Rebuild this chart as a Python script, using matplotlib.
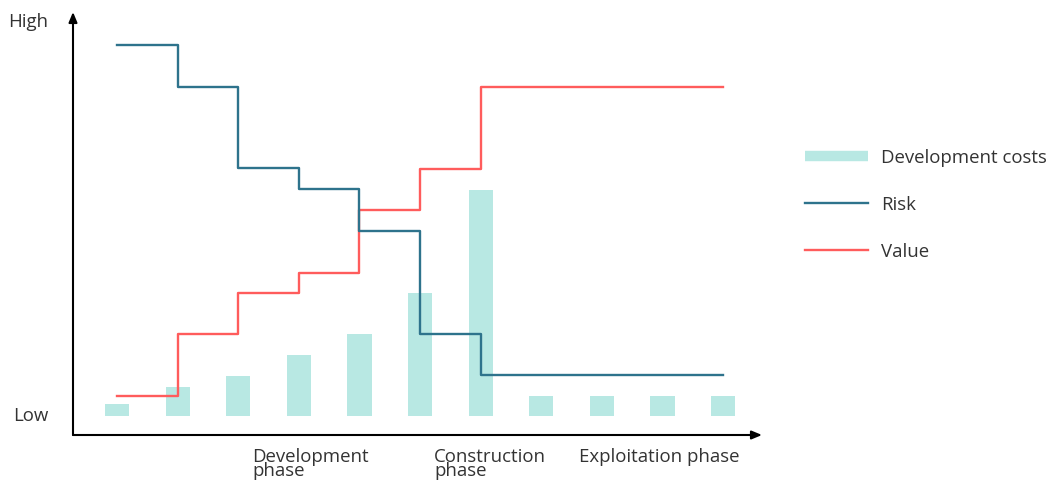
import matplotlib
matplotlib.use("Agg")
import matplotlib.pyplot as plt
from matplotlib.lines import Line2D
import numpy as np

plt.rcParams['font.family'] = ['Open Sans', 'DejaVu Sans']

# Stage index along the project life cycle
stages = list(range(11))
dev_costs = [3.0, 7.4, 10.2, 15.5, 20.8, 31.2, 57.4, 5.1, 5.1, 5.1, 5.1]
risk = [94.2, 83.5, 62.9, 57.6, 47.0, 20.8, 10.4, 10.4, 10.4, 10.4, 10.4]
value = [5.1, 20.8, 31.2, 36.3, 52.3, 62.7, 83.5, 83.5, 83.5, 83.5, 83.5]

y_tick_labels = ["Low", "High"]
y_tick_values = [0, 100]
phase_labels = ["Development\nphase", "Construction\nphase", "Exploitation phase"]
phase_positions = [2.23, 5.23, 7.62]

bar_color = "#b8e8e3"
risk_color = "#2e738c"
value_color = "#ff5c5c"
text_color = "#333333"
fs = 13.4

W, H = 1048, 488
fig = plt.figure(figsize=(W / 100, H / 100), dpi=100)
ax = fig.add_axes([73 / W, (H - 435) / H, (762 - 73) / W, (435 - 12) / H])

ax.bar(stages, dev_costs, width=0.4, color=bar_color, zorder=1)
ax.step(stages, risk, where="post", color=risk_color, lw=1.7, zorder=3)
ax.step(stages, value, where="post", color=value_color, lw=1.7, zorder=2)

ax.set_xlim(-0.726, 10.64)
ax.set_ylim(-4.82, 102.5)

for s in ax.spines.values():
    s.set_visible(False)
ax.set_xticks([])
ax.set_yticks([])

# Axis arrows
arrow_kw = dict(arrowstyle="-|>,head_length=0.6,head_width=0.25", color="black", lw=1.5,
                shrinkA=0, shrinkB=0)
ax.annotate("", xy=(1, 0), xytext=(0, 0), xycoords="axes fraction", arrowprops=arrow_kw)
ax.annotate("", xy=(0, 1), xytext=(0, 0), xycoords="axes fraction", arrowprops=arrow_kw)

# Low / High labels
for lab, yv in zip(y_tick_labels, y_tick_values):
    ax.text(-1.14, yv, lab, ha="right", va="center", fontsize=fs, color=text_color)

# Phase labels under the x axis
for lab, pos in zip(phase_labels, phase_positions):
    ax.text(pos, -8.0, lab, ha="left", va="top", fontsize=fs, color=text_color,
            linespacing=0.78)

handles = [
    Line2D([], [], color=bar_color, lw=7.5, solid_capstyle="butt"),
    Line2D([], [], color=risk_color, lw=1.7),
    Line2D([], [], color=value_color, lw=1.7),
]
fig.legend(handles, ["Development costs", "Risk", "Value"],
           loc="upper left", bbox_to_anchor=(805 / W, 1 - 149 / H),
           frameon=False, fontsize=fs, handlelength=3.4, handletextpad=0.7,
           labelspacing=1.55, borderpad=0, borderaxespad=0, labelcolor=text_color)

fig.savefig("out.png", dpi=100)
